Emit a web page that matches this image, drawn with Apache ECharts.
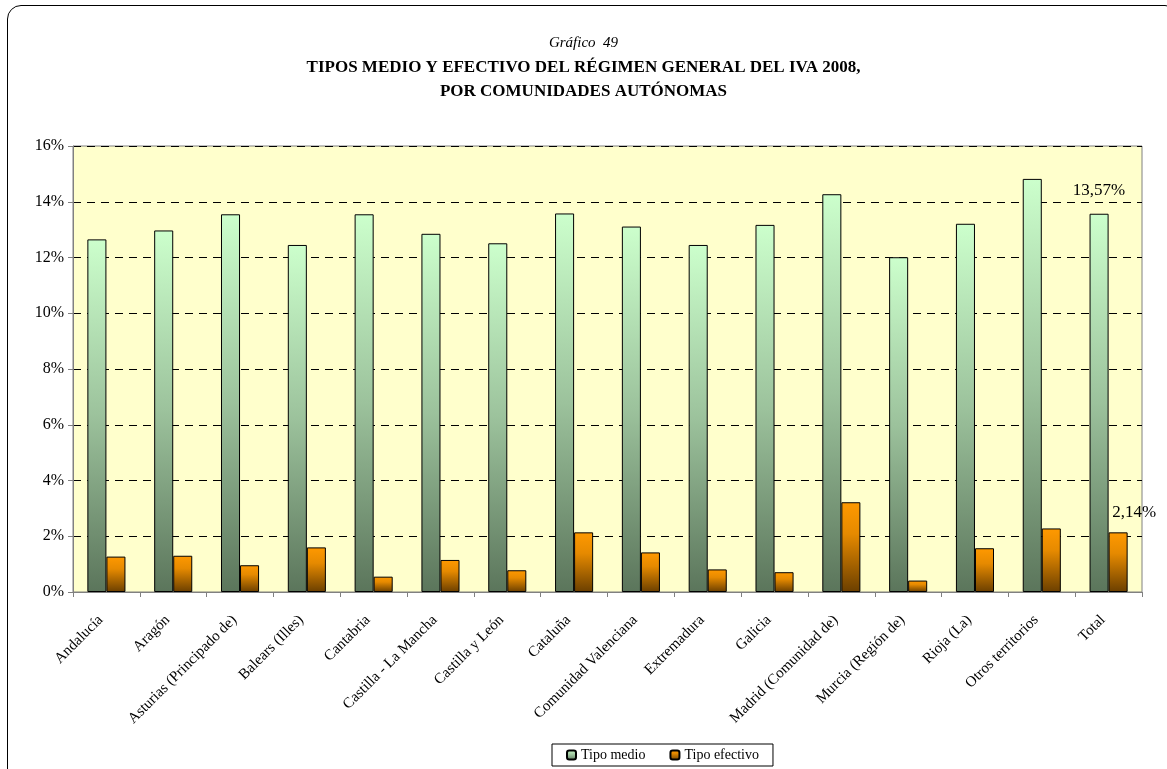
<!DOCTYPE html>
<html>
<head>
<meta charset="utf-8">
<script src="https://cdn.jsdelivr.net/npm/echarts@6/dist/echarts.min.js"></script>
<style>
  html, body { margin: 0; padding: 0; background: #fff; overflow: hidden; }
  #frame {
    position: absolute; left: 7px; top: 5px; width: 1172px; height: 778px;
    border: 1px solid #000; border-radius: 14px; box-sizing: border-box;
  }
  #chart { position: absolute; left: 0; top: 0; width: 1167px; height: 769px; }
</style>
</head>
<body>
<div id="frame"></div>
<div id="chart"></div>
<script>
var regiones = ["Andalucía", "Aragón", "Asturias (Principado de)", "Balears (Illes)", "Cantabria",
    "Castilla - La Mancha", "Castilla y León", "Cataluña", "Comunidad Valenciana", "Extremadura",
    "Galicia", "Madrid (Comunidad de)", "Murcia (Región de)", "Rioja (La)", "Otros territorios", "Total"];
var tipoMedio = [12.65, 12.97, 13.55, 12.45, 13.55, 12.85, 12.51, 13.58, 13.11, 12.45, 13.17, 14.27, 12.01, 13.21, 14.82, 13.57];
var tipoEfectivo = [1.27, 1.30, 0.96, 1.60, 0.55, 1.15, 0.78, 2.14, 1.42, 0.81, 0.71, 3.22, 0.41, 1.57, 2.28, 2.14];

var serif = "'Liberation Serif', 'DejaVu Serif', serif";

function fmtPct(v) {
    return v.toFixed(2).replace('.', ',') + '%';
}

// only the Total bar carries a value label
function withLastLabel(values, offset) {
    return values.map(function (v, i) {
        if (i !== values.length - 1) return v;
        return {
            value: v,
            label: {
                show: true, position: 'top', offset: offset,
                formatter: function (p) { return fmtPct(p.value); },
                fontFamily: serif, fontSize: 17, color: '#000'
            }
        };
    });
}

var greenFill = new echarts.graphic.LinearGradient(0, 0, 0, 1, [
    { offset: 0, color: '#CCFFCC' },
    { offset: 0.5, color: '#9CC29C' },
    { offset: 1, color: '#5B755B' }
]);
var orangeFill = new echarts.graphic.LinearGradient(0, 0, 0, 1, [
    { offset: 0, color: '#FF9900' },
    { offset: 0.35, color: '#E68A00' },
    { offset: 1, color: '#6B3F00' }
]);

var chart = echarts.init(document.getElementById('chart'));
chart.setOption({
    animation: false,
    title: [{
        text: 'Gráfico  49',
        left: 'center', top: 31,
        textStyle: { fontFamily: serif, fontSize: 15, fontStyle: 'italic', fontWeight: 'normal', color: '#000' }
    }, {
        text: 'TIPOS MEDIO Y EFECTIVO DEL RÉGIMEN GENERAL DEL IVA 2008,\nPOR COMUNIDADES AUTÓNOMAS',
        left: 'center', top: 51,
        textStyle: { fontFamily: serif, fontSize: 17, fontWeight: 'bold', color: '#000', lineHeight: 24 }
    }],
    legend: {
        bottom: 3, left: 552,
        itemWidth: 9, itemHeight: 9, itemGap: 24,
        padding: [4, 14, 4, 14],
        borderColor: '#000', borderWidth: 1,
        textStyle: { fontFamily: serif, fontSize: 14, color: '#000' },
        data: ['Tipo medio', 'Tipo efectivo']
    },
    grid: {
        left: 73, right: 25, top: 146, bottom: 177,
        show: true, backgroundColor: '#FFFFCC', borderColor: '#808080', borderWidth: 1
    },
    xAxis: {
        type: 'category',
        data: regiones,
        axisLine: { lineStyle: { color: '#808080' } },
        axisTick: { show: true, length: 5, lineStyle: { color: '#808080' } },
        axisLabel: {
            rotate: 45, interval: 0, fontFamily: serif, fontSize: 15, color: '#000',
            margin: 20, padding: [0, 8, 0, 0]
        }
    },
    yAxis: {
        type: 'value',
        min: 0, max: 16, interval: 2,
        axisLine: { show: true, lineStyle: { color: '#808080' } },
        axisTick: { show: true, length: 5, lineStyle: { color: '#808080' } },
        axisLabel: { formatter: '{value}%', fontFamily: serif, fontSize: 16, color: '#000', margin: 9 },
        splitLine: { lineStyle: { color: '#000', type: [8, 6], width: 1 } }
    },
    series: [{
        name: 'Tipo medio',
        type: 'bar',
        barGap: '0%',
        barCategoryGap: '43%',
        data: withLastLabel(tipoMedio, [0, -10]),
        itemStyle: { color: greenFill, borderColor: '#000', borderWidth: 1 }
    }, {
        name: 'Tipo efectivo',
        type: 'bar',
        data: withLastLabel(tipoEfectivo, [16, -6]),
        itemStyle: { color: orangeFill, borderColor: '#000', borderWidth: 1 }
    }]
});
</script>
</body>
</html>
